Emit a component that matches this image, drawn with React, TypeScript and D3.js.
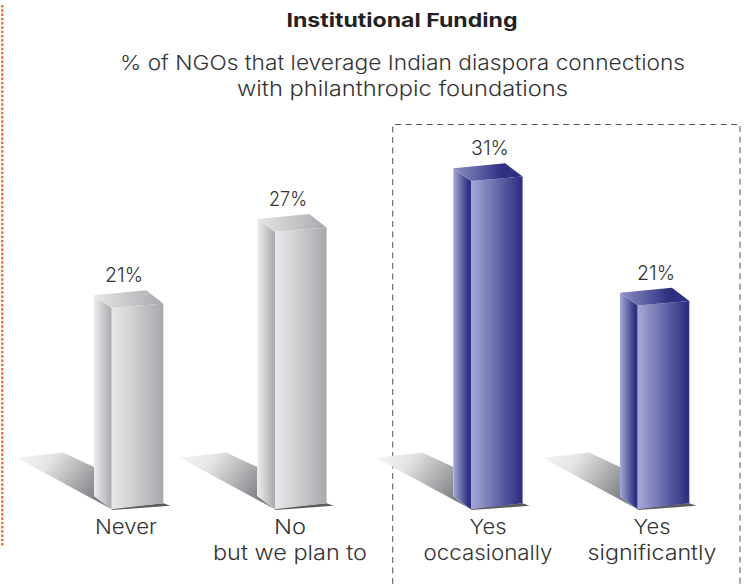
import React from "react";
import * as d3 from "d3";

const categories = ["Never", "No", "Yes occ", "Yes sig"];
const categoryLines = [["Never"], ["No", "but we plan to"], ["Yes", "occasionally"], ["Yes", "significantly"]];
const categoryWidths = [[62], [32, 154], [37, 129], [37, 129]];
const values = [21, 27, 31, 21.2];
const valueLabels = ["21%", "27%", "31%", "21%"];
const highlighted = [false, false, true, true];
const titleText = "Institutional Funding";
const subtitleLines = ["% of NGOs that leverage Indian diaspora connections", "with philanthropic foundations"];

const FONT = "Inter, 'Noto Sans', sans-serif";
const TXT = "#333333";
const W = 747, H = 584;
const BASE = 509.3;

const x = d3.scaleOrdinal<string, number>().domain(categories).range([111.7, 275, 471, 637.7]);
const valueX = d3.scaleOrdinal<string, number>().domain(categories).range([124, 288, 490, 656]);
const catX = d3.scaleOrdinal<string, number>().domain(categories).range([126, 290, 488, 652]);
const y = d3.scaleLinear().domain([5.15, 31]).range([BASE, 181]);
const line = d3.line();

function grad(id: string, stops: [number, string][]) {
  return (
    <linearGradient id={id} x1="0" y1="0" x2="1" y2="0">
      {stops.map(([o, c], i) => <stop key={i} offset={o} stopColor={c} />)}
    </linearGradient>
  );
}

export default function App() {
  const orangeDots = d3.range(5, 547, 4.27);
  return (
    <svg width={W} height={H} viewBox={`0 0 ${W} ${H}`} style={{ position: "absolute", left: 0, top: 0, background: "#fff" }}>
      <defs>
        {grad("gSide", [[0, "#ecedee"], [1, "#a7a9ac"]])}
        {grad("gFront", [[0, "#e8e9ea"], [0.35, "#d2d3d5"], [1, "#a7a9ac"]])}
        {grad("gTop", [[0, "#e6e7e8"], [1, "#a7a9ac"]])}
        {grad("bSide", [[0, "#a6a9d6"], [0.85, "#2e3182"]])}
        {grad("bFront", [[0, "#a6a9d6"], [0.95, "#2e3182"]])}
        {grad("bTop", [[0, "#8f91c5"], [0.7, "#2e3182"]])}
        <linearGradient id="shadow" gradientUnits="objectBoundingBox" x1="0" y1="0" x2="1" y2="0.45">
          <stop offset="0" stopColor="#f6f6f7" />
          <stop offset="0.35" stopColor="#e3e4e5" />
          <stop offset="1" stopColor="#7d7f82" />
        </linearGradient>
      </defs>

      {orangeDots.map((d, i) => (
        <rect key={i} x={1} y={d} width={2.5} height={2.5} fill="#f4733a" />
      ))}

      <path
        d={"M392.7,584 V124.5 H740 V584"}
        fill="none" stroke="#555" strokeWidth={1} strokeDasharray="6 4.5"
      />

      <text x={402} y={27} textAnchor="middle" fontFamily={FONT} fontSize={19} fontWeight={700} fill="#222" textLength={231} lengthAdjust="spacingAndGlyphs">{titleText}</text>
      {subtitleLines.map((s, i) => (
        <text key={i} x={402.5} y={70 + i * 25.5} textAnchor="middle" fontFamily={FONT} fontSize={20.5} fontWeight={300} fill={TXT}
          textLength={i === 0 ? 565 : 331} lengthAdjust="spacingAndGlyphs">{s}</text>
      ))}

      {categories.map((c, i) => {
        const fx = x(c)!;
        const ft = y(values[i]);
        const w = 51.6;
        const dx = 17.7;
        const hi = highlighted[i];
        const pre = hi ? "b" : "g";
        const shadow = line([
          [fx - dx - 77.5, BASE - 51.5],
          [fx - dx - 31, BASE - 56.8],
          [fx - dx, BASE - 42.3],
          [fx - dx, BASE - 13.3],
          [fx, BASE],
        ] as [number, number][])! + "Z";
        const foot = line([
          [fx, BASE + 0.8],
          [fx + w + 7, BASE - 3.5],
          [fx + w, BASE - 6],
          [fx, BASE - 1],
        ] as [number, number][])! + "Z";
        const side = line([
          [fx - dx, ft - 12.7], [fx, ft], [fx, BASE], [fx - dx, BASE - 13.3],
        ] as [number, number][])! + "Z";
        const front = line([
          [fx, ft], [fx + w, ft - 4.4], [fx + w, BASE - 6], [fx, BASE],
        ] as [number, number][])! + "Z";
        const top = line([
          [fx - dx, ft - 12.7], [fx + 34.3, ft - 17.7], [fx + w, ft - 4.4], [fx, ft],
        ] as [number, number][])! + "Z";
        return (
          <g key={c}>
            <path d={shadow} fill="url(#shadow)" />
            <path d={foot} fill="#5a5b5e" />
            <path d={side} fill={`url(#${pre}Side)`} />
            <path d={front} fill={`url(#${pre}Front)`} />
            <path d={top} fill={`url(#${pre}Top)`} />
            <text x={valueX(c)} y={ft - 25.6} textAnchor="middle" fontFamily={FONT} fontSize={20.5} fontWeight={300} fill={TXT} textLength={38} lengthAdjust="spacingAndGlyphs">{valueLabels[i]}</text>
            {categoryLines[i].map((t, j) => (
              <text key={j} x={catX(c)} y={534 + j * 25.5} textAnchor="middle" fontFamily={FONT} fontSize={20.5} fontWeight={300} fill={TXT}
                textLength={categoryWidths[i][j]} lengthAdjust="spacingAndGlyphs">{t}</text>
            ))}
          </g>
        );
      })}
    </svg>
  );
}
